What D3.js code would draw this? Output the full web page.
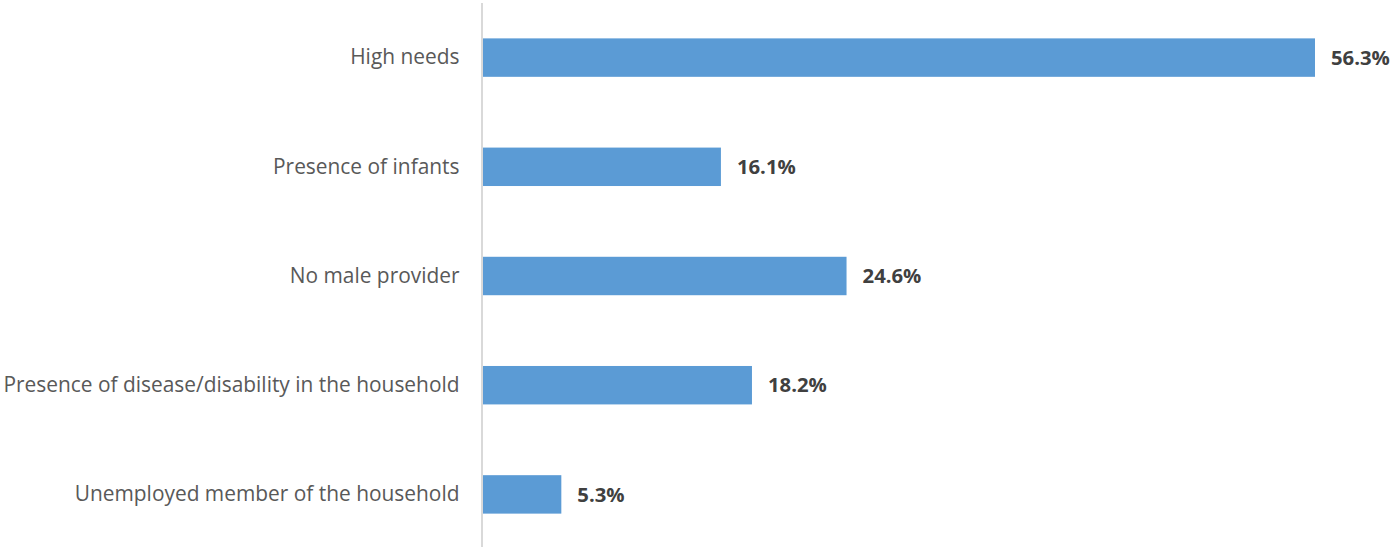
<!DOCTYPE html>
<html>
<head>
<meta charset="utf-8">
<script src="https://cdn.jsdelivr.net/npm/d3@7"></script>
<style>
  html, body { margin: 0; padding: 0; background: #fff; }
  svg { display: block; }
</style>
</head>
<body>
<svg id="chart" width="1392" height="547"></svg>
<script>
// Household vulnerability criteria (share of households, %)
const categories = [
  "High needs",
  "Presence of infants",
  "No male provider",
  "Presence of disease/disability in the household",
  "Unemployed member of the household"
];
const values = [56.3, 16.1, 24.6, 18.2, 5.3];

const width = 1392, height = 547;
const axisX = 483;

const svg = d3.select("#chart");

const x = d3.scaleLinear().domain([0, 56.3]).range([axisX, 1315]);
const y = d3.scaleBand()
  .domain(categories)
  .range([3, 549])
  .paddingInner(0.648)
  .paddingOuter(0.324);

// Bars
svg.append("g")
  .selectAll("rect")
  .data(values)
  .join("rect")
  .attr("x", x(0))
  .attr("y", (d, i) => y(categories[i]))
  .attr("width", d => x(d) - x(0))
  .attr("height", y.bandwidth())
  .attr("fill", "#5b9bd5");

// Category axis
const yAxis = d3.axisLeft(y).tickSize(0).tickPadding(23);
const gy = svg.append("g")
  .attr("transform", `translate(${axisX - 0.5},0)`)
  .call(yAxis);
gy.select(".domain").remove();
gy.selectAll("text")
  .attr("fill", "#595959")
  .style("font-family", "'Open Sans', sans-serif")
  .style("font-size", "20.9px");

svg.append("line")
  .attr("x1", axisX - 1).attr("x2", axisX - 1)
  .attr("y1", 3).attr("y2", height)
  .attr("stroke", "#d9d9d9")
  .attr("stroke-width", 2);

// Value labels
svg.append("g")
  .selectAll("text")
  .data(values)
  .join("text")
  .attr("x", d => x(d) + 16)
  .attr("y", (d, i) => y(categories[i]) + y.bandwidth() / 2)
  .attr("dy", "0.35em")
  .attr("fill", "#404040")
  .style("font-family", "'Open Sans', sans-serif")
  .style("font-weight", "bold")
  .style("font-size", "20.3px")
  .text(d => d.toFixed(1) + "%");
</script>
</body>
</html>
